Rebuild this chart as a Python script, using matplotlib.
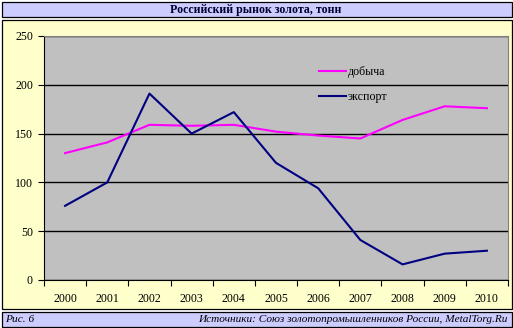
import matplotlib
matplotlib.use("Agg")
import matplotlib.pyplot as plt
from matplotlib.patches import Rectangle

years = ['2000', '2001', '2002', '2003', '2004', '2005', '2006', '2007', '2008', '2009', '2010']
dobycha = [130, 141, 159, 158, 159, 152, 148, 145, 164, 178, 176]
eksport = [76, 100, 191, 150, 172, 120, 94, 41, 16, 27, 30]

W, H = 513, 328
plt.rcParams['font.family'] = ['Liberation Serif', 'DejaVu Serif']

fig = plt.figure(figsize=(W / 100, H / 100), dpi=100)
fig.patch.set_facecolor('white')


def box(x0, y0, x1, y1, color):
    # pixel coords from the top left corner
    r = Rectangle((x0 / W, 1 - y1 / H), (x1 - x0) / W, (y1 - y0) / H,
                  transform=fig.transFigure, facecolor=color,
                  edgecolor='black', linewidth=0.9, zorder=0)
    fig.add_artist(r)


box(1.5, 1.5, 511.5, 17, '#CCCCFF')
box(1.5, 19.5, 511.5, 309, '#FFFFCC')
box(1.5, 311.5, 511.5, 326.5, '#CCCCFF')

fig.text(256 / W, 1 - 9.5 / H, 'Российский рынок золота, тонн', ha='center', va='center',
         fontsize=8.6, fontweight='bold', color='#000033')
fig.text(5 / W, 1 - 319 / H, 'Рис. 6', ha='left', va='center', fontsize=8.2, style='italic')
fig.text(507 / W, 1 - 319 / H, 'Источники: Союз золотопромышленников России, MetalTorg.Ru',
         ha='right', va='center', fontsize=8.1, style='italic')

left, right, top, bottom = 44, 508, 36, 280
ax = fig.add_axes([left / W, 1 - bottom / H, (right - left) / W, (bottom - top) / H])
ax.set_facecolor('#C0C0C0')

x = range(len(years))
ax.plot(x, dobycha, color='#FF00FF', lw=1.5, label='добыча', zorder=3)
ax.plot(x, eksport, color='#000080', lw=1.5, label='экспорт', zorder=3)

ax.set_xlim(-0.5, len(years) - 0.5)
ax.set_ylim(0, 250)
ax.set_yticks(range(0, 251, 50))
ax.yaxis.grid(True, color='black', lw=1)
ax.set_axisbelow(True)

ax.set_xticks([i - 0.5 for i in range(len(years) + 1)], minor=False)
ax.set_xticklabels([])
ax.set_xticks(list(x), minor=True)
ax.set_xticklabels(years, minor=True)
ax.tick_params(axis='x', which='minor', length=0, pad=9, labelsize=8.6)
ax.tick_params(axis='x', which='major', direction='out', length=4, color='black')
ax.tick_params(axis='y', direction='out', length=4, labelsize=8.6, pad=4)

for s in ['top', 'right']:
    ax.spines[s].set_color('#808080')
for s in ['left', 'bottom']:
    ax.spines[s].set_color('black')

ax.legend(loc='upper left', bbox_to_anchor=(0.57, 0.92), frameon=False, fontsize=8.6,
          handlelength=2.2, handletextpad=0.2, labelspacing=1.1)

fig.savefig('out.png', dpi=100)
